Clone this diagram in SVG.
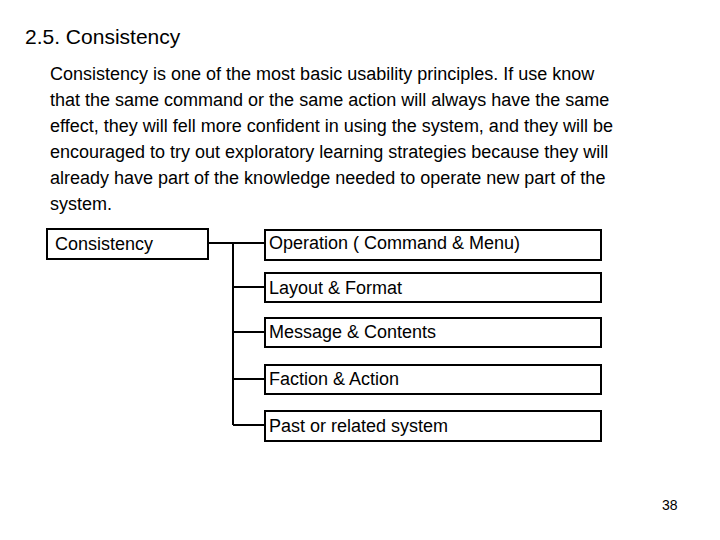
<svg xmlns="http://www.w3.org/2000/svg" width="720" height="540" viewBox="0 0 720 540">
<style>
text{font-family:"Liberation Sans",Arial,sans-serif;fill:#000}
.b{fill:#fff;stroke:#000;stroke-width:2}
.l{stroke:#000;stroke-width:2;fill:none}
.t{font-size:18px}
</style>
<rect width="720" height="540" fill="#fff"/>
<text x="25" y="44" font-size="21">2.5. Consistency</text>
<g font-size="18">
<text x="50" y="80">Consistency is one of the most basic usability principles. If use know</text>
<text x="50" y="106">that the same command or the same action will always have the same</text>
<text x="50" y="132">effect, they will fell more confident in using the system, and they will be</text>
<text x="50" y="158">encouraged to try out exploratory learning strategies because they will</text>
<text x="50" y="184">already have part of the knowledge needed to operate new part of the</text>
<text x="50" y="210">system.</text>
</g>
<g id="connectors">
<path class="l" d="M208 243H265M233 243V425M233 287H265M233 332H265M233 379H265M233 425H265"/>
</g>
<g id="n0"><rect class="b" x="47" y="229" width="161" height="30"/><text class="t" x="55" y="250">Consistency</text></g>
<g id="n1"><rect class="b" x="265" y="230" width="336" height="30"/><text class="t" x="269" y="249">Operation ( Command &amp; Menu)</text></g>
<g id="n2"><rect class="b" x="265" y="273" width="336" height="29"/><text class="t" x="269" y="294">Layout &amp; Format</text></g>
<g id="n3"><rect class="b" x="265" y="318" width="336" height="29"/><text class="t" x="269" y="338">Message &amp; Contents</text></g>
<g id="n4"><rect class="b" x="265" y="365" width="336" height="29"/><text class="t" x="269" y="385">Faction &amp; Action</text></g>
<g id="n5"><rect class="b" x="265" y="411" width="336" height="30"/><text class="t" x="269" y="432">Past or related system</text></g>
<text x="662" y="510" font-size="14">38</text>
</svg>
